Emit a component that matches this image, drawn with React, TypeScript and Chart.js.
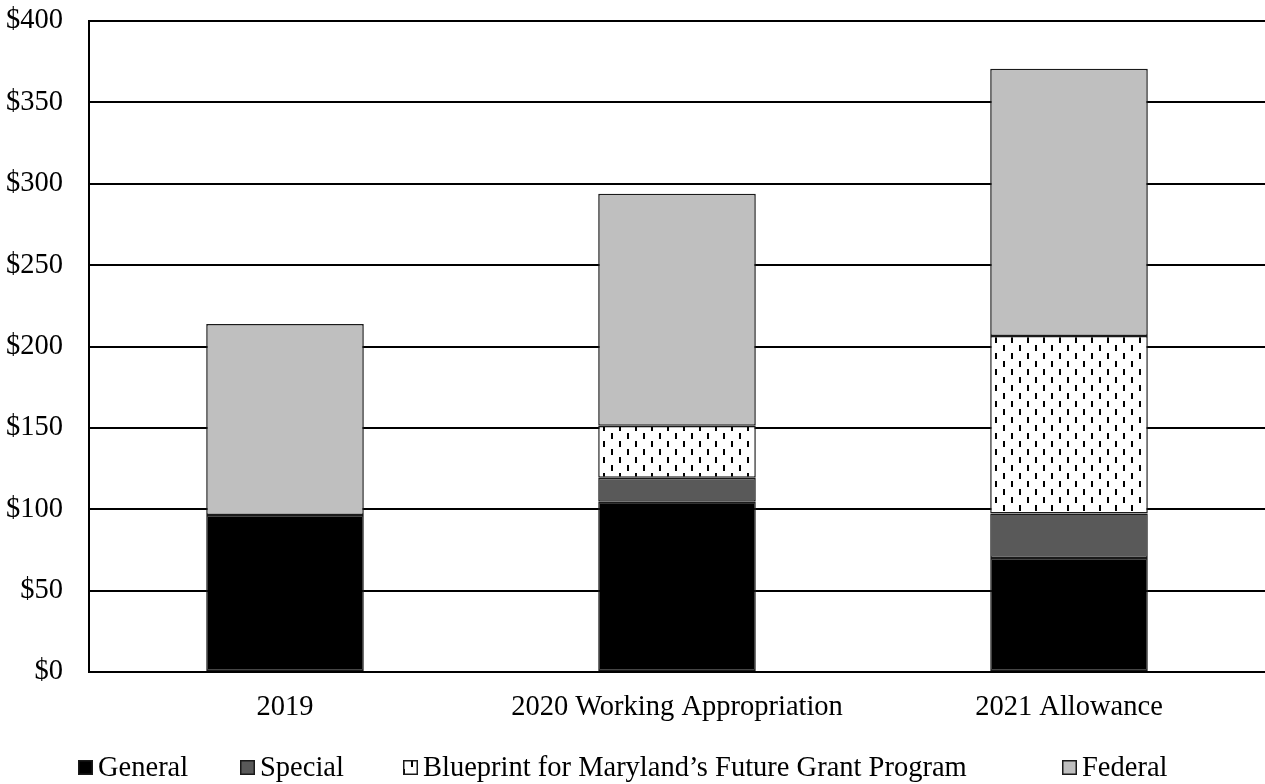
import React, { useEffect, useRef } from "react";
import { Chart, registerables } from "chart.js";

Chart.register(...registerables);

// Funding by source, $ in millions
const categories = ["2019", "2020 Working Appropriation", "2021 Allowance"];
const generalFunds = [96.4, 104.6, 70.1];
const specialFunds = [0, 14.7, 27.3];
const blueprintFunds = [0, 32.0, 109.1];
const federalFunds = [117.4, 142.5, 164.2];
const yTicks = [0, 50, 100, 150, 200, 250, 300, 350, 400];

const FONT = "'Liberation Serif', 'Times New Roman', serif";
const FONT_SIZE = 28.5;

// Small vertical dashes on white, offset in alternating columns
function makeDashPattern(): CanvasPattern | string {
  const tile = document.createElement("canvas");
  tile.width = 16;
  tile.height = 16;
  const c = tile.getContext("2d");
  if (!c) return "#fff";
  c.fillStyle = "#fff";
  c.fillRect(0, 0, 16, 16);
  c.fillStyle = "#000";
  c.fillRect(3, 1, 2, 6);
  c.fillRect(11, 9, 2, 6);
  return c.createPattern(tile, "repeat") || "#fff";
}

export default function App() {
  const canvasRef = useRef<HTMLCanvasElement | null>(null);

  useEffect(() => {
    const canvas = canvasRef.current;
    if (!canvas) return;
    const pattern = makeDashPattern();

    const legendItems = [
      { label: "General", fill: "#000000", textX: 98 },
      { label: "Special", fill: "#595959", textX: 260 },
      { label: "Blueprint for Maryland\u2019s Future Grant Program", fill: pattern, textX: 423 },
      { label: "Federal", fill: "#bfbfbf", textX: 1082 },
    ];

    const bottomLegend = {
      id: "bottomLegend",
      afterDraw(chart: Chart) {
        const ctx = chart.ctx;
        ctx.save();
        ctx.font = `${FONT_SIZE}px ${FONT}`;
        ctx.textBaseline = "alphabetic";
        ctx.textAlign = "left";
        for (const item of legendItems) {
          const bx = item.textX - 20;
          const by = 760;
          ctx.fillStyle = item.fill as any;
          ctx.fillRect(bx, by, 15, 15);
          ctx.lineWidth = 1.5;
          ctx.strokeStyle = "#1a1a1a";
          ctx.strokeRect(bx + 0.75, by + 0.75, 13.5, 13.5);
          ctx.fillStyle = "#000";
          ctx.fillText(item.label, item.textX, 776);
        }
        ctx.restore();
      },
    };

    const common = {
      borderColor: "#1a1a1a",
      borderWidth: 1.5,
      borderSkipped: false as const,
      barPercentage: 0.402,
      categoryPercentage: 1,
    };

    const chart = new Chart(canvas, {
      type: "bar",
      data: {
        labels: categories,
        datasets: [
          { label: "General", data: generalFunds, backgroundColor: "#000000", ...common },
          { label: "Special", data: specialFunds, backgroundColor: "#595959", ...common },
          { label: "Blueprint for Maryland\u2019s Future Grant Program", data: blueprintFunds, backgroundColor: pattern as any, ...common },
          { label: "Federal", data: federalFunds, backgroundColor: "#bfbfbf", ...common },
        ],
      },
      options: {
        responsive: false,
        animation: false,
        layout: { padding: 0 },
        plugins: {
          legend: { display: false },
          title: { display: false },
          tooltip: { enabled: false },
        },
        scales: {
          x: {
            stacked: true,
            grid: { display: false },
            border: { display: true, color: "#000", width: 2 },
            ticks: {
              color: "#000",
              padding: 10,
              font: { family: FONT, size: FONT_SIZE },
              maxRotation: 0,
            },
            afterFit(scale: any) {
              scale.height = 112;
              scale.paddingTop = 0;
              scale.paddingBottom = 0;
            },
          },
          y: {
            stacked: true,
            min: 0,
            max: 400,
            afterBuildTicks(scale: any) {
              scale.ticks = yTicks.map((v) => ({ value: v }));
            },
            grid: { color: "#000", lineWidth: 2, drawTicks: false },
            border: { display: true, color: "#000", width: 2 },
            ticks: {
              color: "#000",
              padding: 26,
              font: { family: FONT, size: FONT_SIZE },
              callback: (v: any) => `$${v}`,
            },
            afterFit(scale: any) {
              scale.width = 89;
              scale.paddingTop = 21;
              scale.paddingBottom = 0;
            },
          },
        },
      },
      plugins: [bottomLegend],
    });

    return () => chart.destroy();
  }, []);

  return (
    <div style={{ position: "fixed", left: 0, top: 0, width: 1265, height: 784, background: "#fff" }}>
      <canvas ref={canvasRef} width={1265} height={784} style={{ display: "block" }} />
    </div>
  );
}
